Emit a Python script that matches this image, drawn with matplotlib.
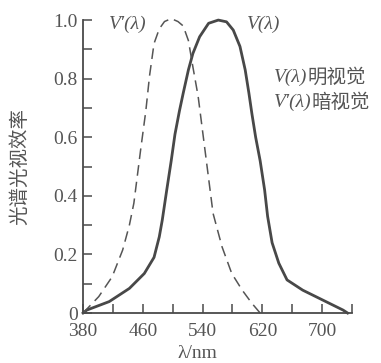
import matplotlib
matplotlib.use("Agg")
import matplotlib.pyplot as plt

# photopic V(lambda)
wl_photopic = [380, 385, 415, 442, 462, 475, 482, 486, 492, 498, 503, 509, 514, 521,
               527, 536, 548, 561, 572, 581, 590, 597, 602, 606, 611, 617, 623, 627,
               633, 642, 653, 674, 701, 728, 734]
v_photopic = [0.0, 0.01, 0.039, 0.084, 0.135, 0.19, 0.26, 0.317, 0.42, 0.52, 0.61, 0.69,
              0.75, 0.83, 0.886, 0.943, 0.989, 1.0, 0.994, 0.966, 0.91, 0.83, 0.75, 0.68,
              0.60, 0.52, 0.42, 0.33, 0.24, 0.17, 0.113, 0.078, 0.044, 0.01, 0.0]

# scotopic V'(lambda)
wl_scotopic = [380, 401, 419, 433, 442, 448, 457, 464, 469, 475, 482, 489, 498, 507,
               514, 521, 527, 534, 538, 545, 554, 566, 579, 593, 606, 617]
v_scotopic = [0.0, 0.056, 0.124, 0.215, 0.30, 0.375, 0.556, 0.69, 0.81, 0.92, 0.97,
              0.995, 1.005, 0.995, 0.98, 0.93, 0.84, 0.74, 0.66, 0.52, 0.34, 0.226,
              0.135, 0.078, 0.033, 0.0]

x_ticks = [380, 460, 540, 620, 700]
y_ticks = [0, 0.2, 0.4, 0.6, 0.8, 1.0]
y_tick_labels = ["0", "0.2", "0.4", "0.6", "0.8", "1.0"]

serif = ["Liberation Serif", "DejaVu Serif"]
ink = "#555555"

fig = plt.figure(figsize=(3.81, 3.63), dpi=100)
ax = fig.add_axes([0.218, 0.1377, 0.706, 0.807])

ax.plot(wl_photopic, v_photopic, color="#484848", lw=2.0, clip_on=False)
ax.plot(wl_scotopic, v_scotopic, color="#555555", lw=1.1, ls=(0, (7, 4)), clip_on=False)

ax.set_xlim(380, 740)
ax.set_ylim(0, 1.0)
ax.set_xticks(x_ticks)
ax.set_xticks(range(380, 741, 40), minor=True)
ax.set_yticks(y_ticks)
ax.set_yticks([0.1, 0.3, 0.5, 0.7, 0.9], minor=True)
ax.set_yticklabels(y_tick_labels)

for s in ["top", "right"]:
    ax.spines[s].set_visible(False)
for s in ["left", "bottom"]:
    ax.spines[s].set_color("#4a4a4a")
    ax.spines[s].set_linewidth(1.3)

ax.tick_params(which="both", direction="in", length=6.5, width=1.1, color="#4a4a4a",
               labelcolor=ink, labelsize=14)
ax.tick_params(axis="x", pad=7)
ax.tick_params(axis="y", pad=4)
for lab in ax.get_xticklabels() + ax.get_yticklabels():
    lab.set_fontfamily(serif)

ax.set_xlabel("λ/nm", fontsize=14, family=serif, color=ink)
ax.xaxis.set_label_coords(0.424, -0.108)
ax.set_ylabel("光谱光视效率", fontsize=14, family=["Noto Sans CJK SC"], color=ink)
ax.yaxis.set_label_coords(-0.198, 0.5)

ax.text(440, 0.985, "V′(λ)", fontsize=14, color=ink, ha="center", va="center",
        family=serif, style="italic")
ax.text(622, 0.985, "V(λ)", fontsize=14, color=ink, ha="center", va="center",
        family=serif, style="italic")

t1 = ax.text(636, 0.805, "V(λ)", fontsize=14, color=ink, va="center",
             family=serif, style="italic")
ax.annotate("明视觉", xy=(1, 0.5), xycoords=t1, va="center", fontsize=14, color=ink,
            family=["Noto Sans CJK SC"])
t2 = ax.text(636, 0.72, "V′(λ)", fontsize=14, color=ink, va="center",
             family=serif, style="italic")
ax.annotate("暗视觉", xy=(1, 0.5), xycoords=t2, va="center", fontsize=14, color=ink,
            family=["Noto Sans CJK SC"])

fig.savefig("out.png", dpi=100)
